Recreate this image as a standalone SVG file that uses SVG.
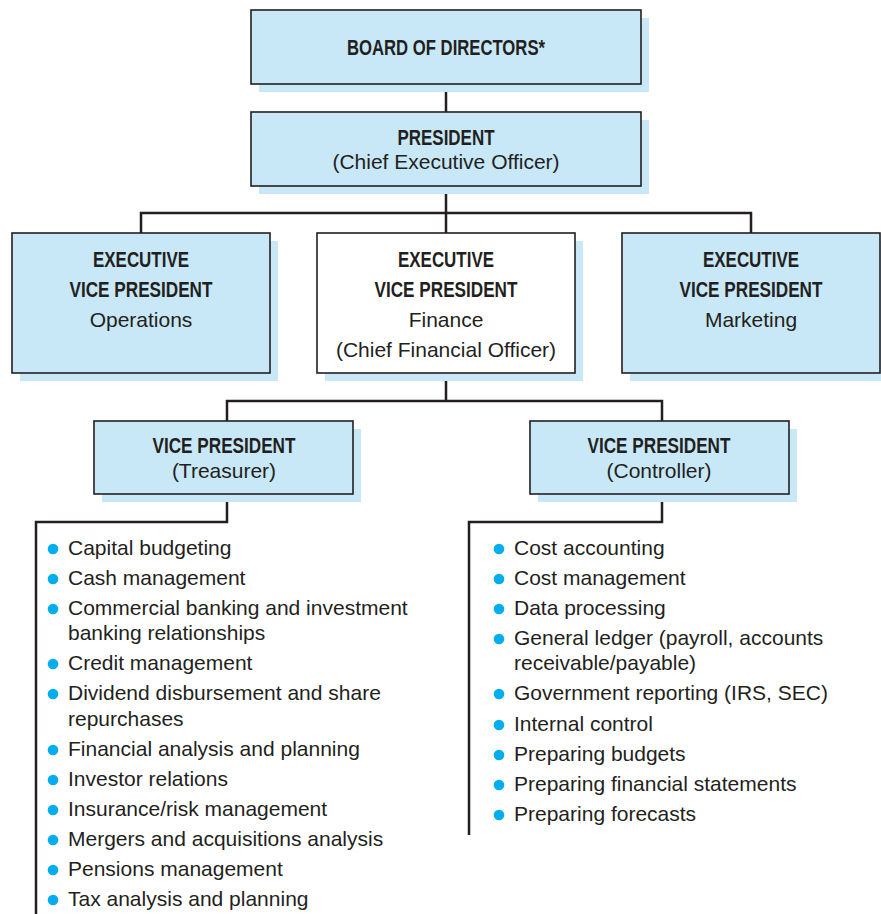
<svg xmlns="http://www.w3.org/2000/svg" width="881" height="914" viewBox="0 0 881 914">
<style>
.shadow{fill:#c8e8f8;stroke:none}
.box{fill:#c8e8f8;stroke:#231f20;stroke-width:1.6}
.wbox{fill:#ffffff;stroke:#231f20;stroke-width:1.6}
.b{font-family:"Liberation Sans",Arial,sans-serif;font-weight:bold;font-size:22.5px;fill:#231f20;text-anchor:middle}
.r{font-family:"Liberation Sans",Arial,sans-serif;font-size:21px;fill:#231f20;text-anchor:middle}
.li{font-family:"Liberation Sans",Arial,sans-serif;font-size:21px;fill:#231f20}
.dot{fill:#00aeef}
.conn{fill:none;stroke:#231f20;stroke-width:2.5}
</style>
<rect width="881" height="914" fill="#ffffff"/>
<g id="connectors">
<path class="conn" d="M446 84 V112"/>
<path class="conn" d="M446 186 V213 M141 233 V213 H751 V233 M446 213 V233"/>
<path class="conn" d="M446 373 V401 M227 421 V401 H662 V421"/>
<path class="conn" d="M227 494 V522 H36 V914"/>
<path class="conn" d="M662 494 V522 H469 V835"/>
</g>
<g id="board">
<rect class="shadow" x="259" y="18" width="390" height="74"/>
<rect class="box" x="251" y="10" width="390" height="74"/>
<text class="b" x="446" y="55" textLength="198" lengthAdjust="spacingAndGlyphs">BOARD OF DIRECTORS*</text>
</g>
<g id="president">
<rect class="shadow" x="259" y="120" width="390" height="74"/>
<rect class="box" x="251" y="112" width="390" height="74"/>
<text class="b" x="446" y="145" textLength="97" lengthAdjust="spacingAndGlyphs">PRESIDENT</text>
<text class="r" x="446" y="169">(Chief Executive Officer)</text>
</g>
<g id="evp-operations">
<rect class="shadow" x="20" y="241" width="258" height="140"/>
<rect class="box" x="12" y="233" width="258" height="140"/>
<text class="b" x="141" y="267" textLength="96" lengthAdjust="spacingAndGlyphs">EXECUTIVE</text>
<text class="b" x="141" y="297" textLength="143" lengthAdjust="spacingAndGlyphs">VICE PRESIDENT</text>
<text class="r" x="141" y="327">Operations</text>
</g>
<g id="evp-finance">
<rect class="shadow" x="325" y="241" width="258" height="140"/>
<rect class="wbox" x="317" y="233" width="258" height="140"/>
<text class="b" x="446" y="267" textLength="96" lengthAdjust="spacingAndGlyphs">EXECUTIVE</text>
<text class="b" x="446" y="297" textLength="143" lengthAdjust="spacingAndGlyphs">VICE PRESIDENT</text>
<text class="r" x="446" y="327">Finance</text>
<text class="r" x="446" y="357">(Chief Financial Officer)</text>
</g>
<g id="evp-marketing">
<rect class="shadow" x="630" y="241" width="258" height="140"/>
<rect class="box" x="622" y="233" width="258" height="140"/>
<text class="b" x="751" y="267" textLength="96" lengthAdjust="spacingAndGlyphs">EXECUTIVE</text>
<text class="b" x="751" y="297" textLength="143" lengthAdjust="spacingAndGlyphs">VICE PRESIDENT</text>
<text class="r" x="751" y="327">Marketing</text>
</g>
<g id="vp-treasurer">
<rect class="shadow" x="102" y="429" width="259" height="73"/>
<rect class="box" x="94" y="421" width="259" height="73"/>
<text class="b" x="224" y="453" textLength="143" lengthAdjust="spacingAndGlyphs">VICE PRESIDENT</text>
<text class="r" x="224" y="478">(Treasurer)</text>
</g>
<g id="vp-controller">
<rect class="shadow" x="538" y="429" width="259" height="73"/>
<rect class="box" x="530" y="421" width="259" height="73"/>
<text class="b" x="659" y="453" textLength="143" lengthAdjust="spacingAndGlyphs">VICE PRESIDENT</text>
<text class="r" x="659" y="478">(Controller)</text>
</g>
<g id="treasurer-duties">
<circle class="dot" cx="53" cy="549" r="5.3"/><text class="li" x="68" y="555">Capital budgeting</text>
<circle class="dot" cx="53" cy="579" r="5.3"/><text class="li" x="68" y="585">Cash management</text>
<circle class="dot" cx="53" cy="609" r="5.3"/><text class="li" x="68" y="615">Commercial banking and investment</text>
<text class="li" x="68" y="640">banking relationships</text>
<circle class="dot" cx="53" cy="664" r="5.3"/><text class="li" x="68" y="670">Credit management</text>
<circle class="dot" cx="53" cy="694" r="5.3"/><text class="li" x="68" y="700">Dividend disbursement and share</text>
<text class="li" x="68" y="726">repurchases</text>
<circle class="dot" cx="53" cy="750" r="5.3"/><text class="li" x="68" y="756">Financial analysis and planning</text>
<circle class="dot" cx="53" cy="780" r="5.3"/><text class="li" x="68" y="786">Investor relations</text>
<circle class="dot" cx="53" cy="810" r="5.3"/><text class="li" x="68" y="816">Insurance/risk management</text>
<circle class="dot" cx="53" cy="840" r="5.3"/><text class="li" x="68" y="846">Mergers and acquisitions analysis</text>
<circle class="dot" cx="53" cy="870" r="5.3"/><text class="li" x="68" y="876">Pensions management</text>
<circle class="dot" cx="53" cy="900" r="5.3"/><text class="li" x="68" y="906">Tax analysis and planning</text>
</g>
<g id="controller-duties">
<circle class="dot" cx="499" cy="549" r="5.3"/><text class="li" x="514" y="555">Cost accounting</text>
<circle class="dot" cx="499" cy="579" r="5.3"/><text class="li" x="514" y="585">Cost management</text>
<circle class="dot" cx="499" cy="609" r="5.3"/><text class="li" x="514" y="615">Data processing</text>
<circle class="dot" cx="499" cy="639" r="5.3"/><text class="li" x="514" y="645">General ledger (payroll, accounts</text>
<text class="li" x="514" y="670">receivable/payable)</text>
<circle class="dot" cx="499" cy="694" r="5.3"/><text class="li" x="514" y="700">Government reporting (IRS, SEC)</text>
<circle class="dot" cx="499" cy="725" r="5.3"/><text class="li" x="514" y="731">Internal control</text>
<circle class="dot" cx="499" cy="755" r="5.3"/><text class="li" x="514" y="761">Preparing budgets</text>
<circle class="dot" cx="499" cy="785" r="5.3"/><text class="li" x="514" y="791">Preparing financial statements</text>
<circle class="dot" cx="499" cy="815" r="5.3"/><text class="li" x="514" y="821">Preparing forecasts</text>
</g>
</svg>
